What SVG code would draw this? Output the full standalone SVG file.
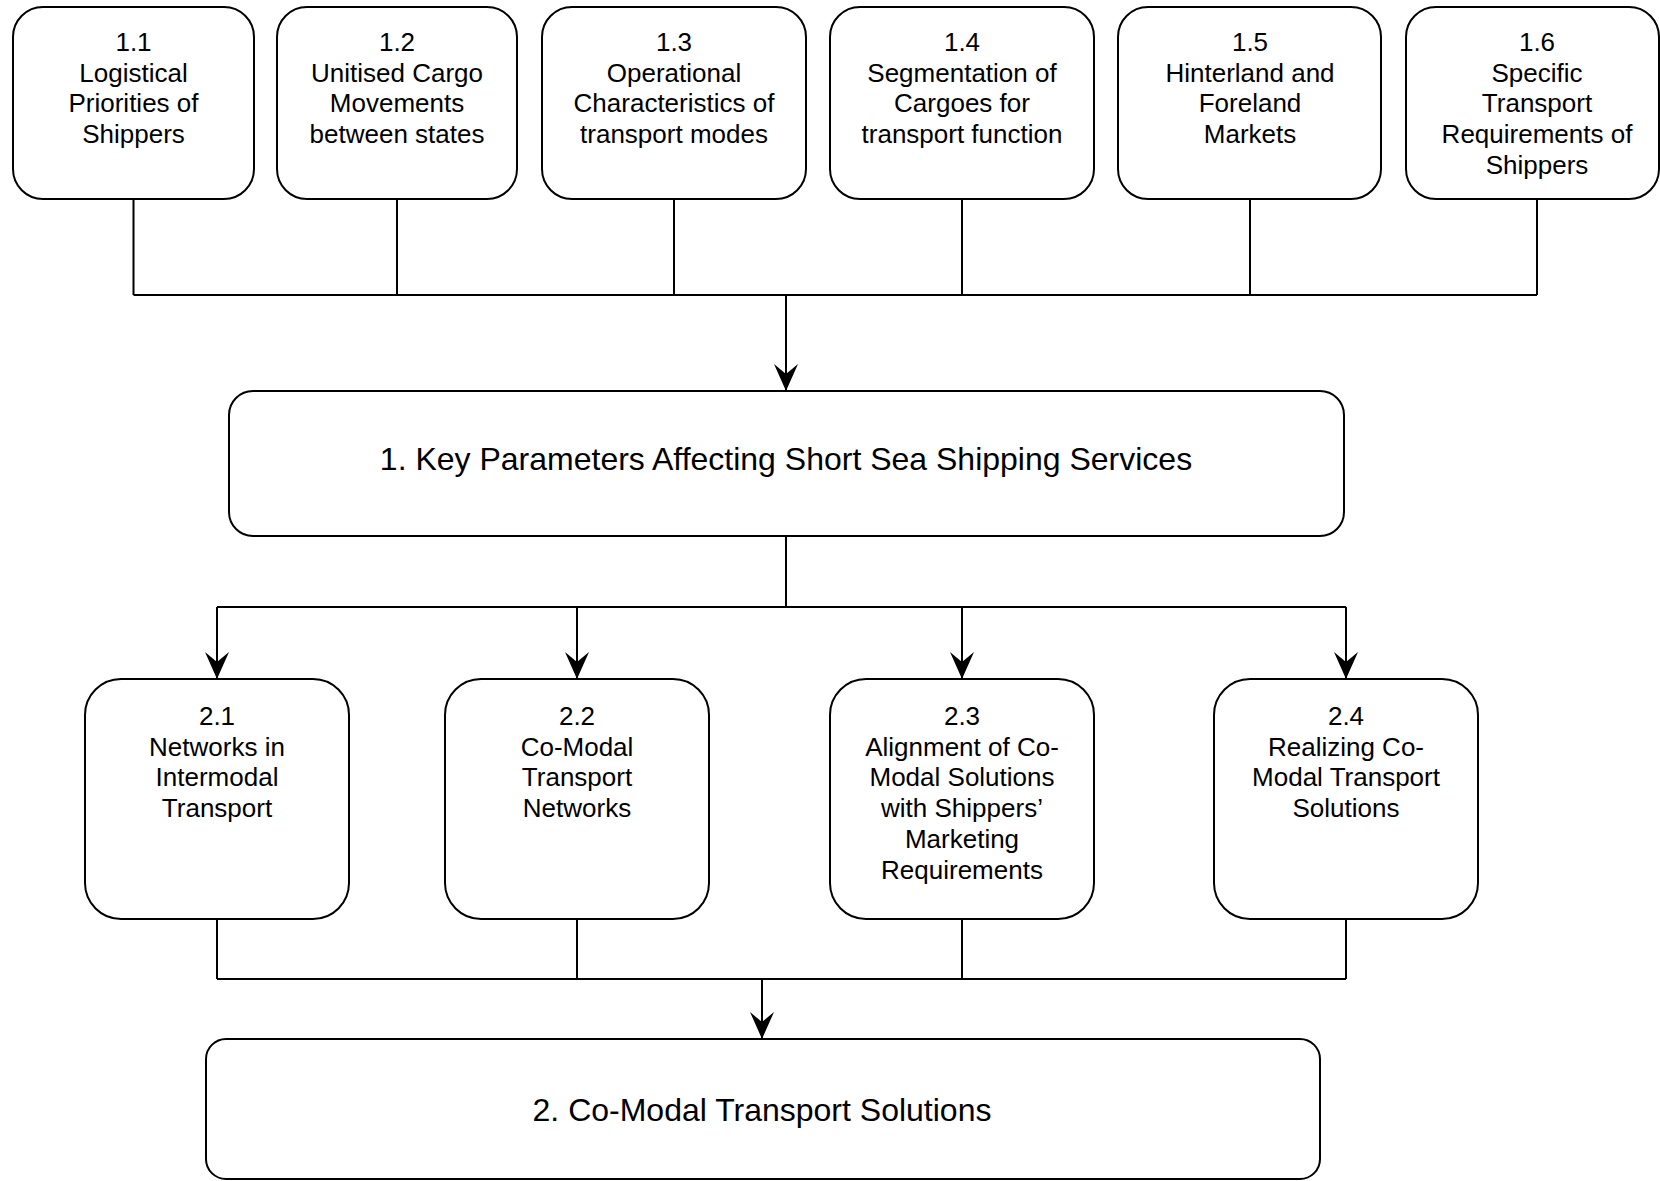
<svg xmlns="http://www.w3.org/2000/svg" width="1660" height="1181" viewBox="0 0 1660 1181">
<defs>
<style>
.box{fill:#fff;stroke:#000;stroke-width:2}
.t{font-family:"Liberation Sans",Arial,sans-serif;font-size:26px;fill:#000;text-anchor:middle}
.big{font-family:"Liberation Sans",Arial,sans-serif;font-size:32px;fill:#000;text-anchor:middle}
.ln{fill:none;stroke:#000;stroke-width:2}
</style>
<marker id="ah" markerUnits="userSpaceOnUse" viewBox="-29 -14 31 28" refX="0" refY="0" markerWidth="31" markerHeight="28" orient="auto" overflow="visible">
<path d="M0,0 L-27,-12 L-17,0 L-27,12 Z" fill="#000"/>
</marker>
</defs>
<rect width="1660" height="1181" fill="#fff"/>

<g id="n11"><rect class="box" x="13" y="7" width="241" height="192" rx="30"/>
<text class="t"><tspan x="133.5" y="51">1.1</tspan><tspan x="133.5" y="81.7">Logistical</tspan><tspan x="133.5" y="112.4">Priorities of</tspan><tspan x="133.5" y="143.1">Shippers</tspan></text></g>

<g id="n12"><rect class="box" x="277" y="7" width="240" height="192" rx="30"/>
<text class="t"><tspan x="397" y="51">1.2</tspan><tspan x="397" y="81.7">Unitised Cargo</tspan><tspan x="397" y="112.4">Movements</tspan><tspan x="397" y="143.1">between states</tspan></text></g>

<g id="n13"><rect class="box" x="542" y="7" width="264" height="192" rx="30"/>
<text class="t"><tspan x="674" y="51">1.3</tspan><tspan x="674" y="81.7">Operational</tspan><tspan x="674" y="112.4">Characteristics of</tspan><tspan x="674" y="143.1">transport modes</tspan></text></g>

<g id="n14"><rect class="box" x="830" y="7" width="264" height="192" rx="30"/>
<text class="t"><tspan x="962" y="51">1.4</tspan><tspan x="962" y="81.7">Segmentation of</tspan><tspan x="962" y="112.4">Cargoes for</tspan><tspan x="962" y="143.1">transport function</tspan></text></g>

<g id="n15"><rect class="box" x="1118" y="7" width="263" height="192" rx="30"/>
<text class="t"><tspan x="1250" y="51">1.5</tspan><tspan x="1250" y="81.7">Hinterland and</tspan><tspan x="1250" y="112.4">Foreland</tspan><tspan x="1250" y="143.1">Markets</tspan></text></g>

<g id="n16"><rect class="box" x="1406" y="7" width="253" height="192" rx="30"/>
<text class="t"><tspan x="1537" y="51">1.6</tspan><tspan x="1537" y="81.7">Specific</tspan><tspan x="1537" y="112.4">Transport</tspan><tspan x="1537" y="143.1">Requirements of</tspan><tspan x="1537" y="173.8">Shippers</tspan></text></g>

<g id="n1"><rect class="box" x="229" y="391" width="1115" height="145" rx="24"/>
<text class="big" x="786" y="470">1. Key Parameters Affecting Short Sea Shipping Services</text></g>

<g id="n21"><rect class="box" x="85" y="679" width="264" height="240" rx="36"/>
<text class="t"><tspan x="217" y="725">2.1</tspan><tspan x="217" y="755.7">Networks in</tspan><tspan x="217" y="786.4">Intermodal</tspan><tspan x="217" y="817.1">Transport</tspan></text></g>

<g id="n22"><rect class="box" x="445" y="679" width="264" height="240" rx="36"/>
<text class="t"><tspan x="577" y="725">2.2</tspan><tspan x="577" y="755.7">Co-Modal</tspan><tspan x="577" y="786.4">Transport</tspan><tspan x="577" y="817.1">Networks</tspan></text></g>

<g id="n23"><rect class="box" x="830" y="679" width="264" height="240" rx="36"/>
<text class="t"><tspan x="962" y="725">2.3</tspan><tspan x="962" y="755.7">Alignment of Co-</tspan><tspan x="962" y="786.4">Modal Solutions</tspan><tspan x="962" y="817.1">with Shippers’</tspan><tspan x="962" y="847.8">Marketing</tspan><tspan x="962" y="878.5">Requirements</tspan></text></g>

<g id="n24"><rect class="box" x="1214" y="679" width="264" height="240" rx="36"/>
<text class="t"><tspan x="1346" y="725">2.4</tspan><tspan x="1346" y="755.7">Realizing Co-</tspan><tspan x="1346" y="786.4">Modal Transport</tspan><tspan x="1346" y="817.1">Solutions</tspan></text></g>

<g id="n2"><rect class="box" x="206" y="1039" width="1114" height="140" rx="20"/>
<text class="big" x="762" y="1121">2. Co-Modal Transport Solutions</text></g>

<g id="connectors">
<path class="ln" d="M133.5,199 V295 M397,199 V295 M674,199 V295 M962,199 V295 M1250,199 V295 M1537,199 V295 M133.5,295 H1537"/>
<path class="ln" d="M786,295 V391" marker-end="url(#ah)"/>
<path class="ln" d="M786,536 V607 M217,607 H1346"/>
<path class="ln" d="M217,607 V679" marker-end="url(#ah)"/>
<path class="ln" d="M577,607 V679" marker-end="url(#ah)"/>
<path class="ln" d="M962,607 V679" marker-end="url(#ah)"/>
<path class="ln" d="M1346,607 V679" marker-end="url(#ah)"/>
<path class="ln" d="M217,919 V979 M577,919 V979 M962,919 V979 M1346,919 V979 M217,979 H1346"/>
<path class="ln" d="M762,979 V1039" marker-end="url(#ah)"/>
</g>
</svg>
